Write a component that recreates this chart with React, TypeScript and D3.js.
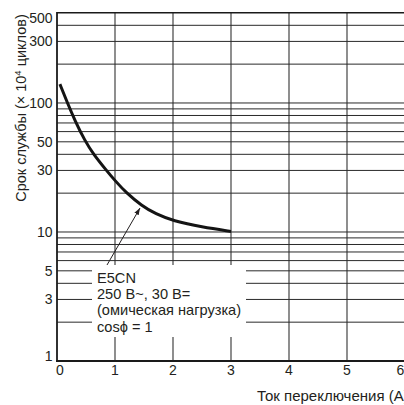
import React from "react";
import * as d3 from "d3";

const currentA = [0.05, 0.18, 0.31, 0.48, 0.63, 0.84, 1.0, 1.2, 1.46, 1.7, 2.0, 2.5, 3.0];
const lifeValues = [140, 100, 73, 51, 40, 30.5, 25, 20, 16, 13.8, 12.2, 10.9, 10.1];

const xTicks = [0, 1, 2, 3, 4, 5, 6];
const yTickLabels = [500, 300, 100, 50, 30, 10, 5, 3, 1];
const yGridFull = [6, 7, 8, 9, 10, 20, 30, 40, 50, 60, 70, 80, 90, 100, 200, 300, 400];
const yGridBroken = [2, 3, 4, 5];

const noteLines = ["E5CN", "250 В~, 30 В=", "(омическая нагрузка)", "cosϕ = 1"];
const xTitle = "Ток переключения (А)";

const FONT = "'Liberation Sans', Arial, Helvetica, sans-serif";
const INK = "#231f20";

export default function App() {
  const W = 404;
  const H = 405;
  const left = 57;
  const top = 12.8;
  const bottom = 361;
  const x = d3.scaleLinear().domain([0, 6]).range([left, 405]);
  const y = d3.scaleLog().domain([1, 500]).range([bottom, top]);

  const pts = currentA.map((a, i) => [a, lifeValues[i]] as [number, number]);
  const line = d3
    .line<[number, number]>()
    .x((d) => x(d[0]))
    .y((d) => y(d[1]))
    .curve(d3.curveBasis);

  const box = { x0: 92, x1: 246, y0: 265, y1: 337 };

  return (
    <svg
      width={W}
      height={H}
      viewBox={`0 0 ${W} ${H}`}
      style={{ position: "absolute", left: 0, top: 0, background: "#fff" }}
      fontFamily={FONT}
    >
      <defs>
        <marker id="ah" viewBox="0 0 10 10" refX="10" refY="5" markerWidth="7" markerHeight="7" orient="auto" markerUnits="userSpaceOnUse">
          <path d="M0,1.5 L10,5 L0,8.5 Z" fill={INK} />
        </marker>
      </defs>
      <rect x={0} y={0} width={W} height={H} fill="#fff" />

      {/* vertical grid */}
      {xTicks.filter((t) => t > 0).map((t) => (
        <line key={"vx" + t} x1={x(t)} x2={x(t)} y1={top} y2={bottom} stroke="#444" strokeWidth={1.2} />
      ))}
      {/* horizontal grid */}
      {yGridFull.concat(yGridBroken).map((v) => (
        <line key={"hy" + v} x1={left} x2={W} y1={y(v)} y2={y(v)} stroke="#2a2a2a" strokeWidth={1} />
      ))}

      {/* annotation background */}
      <rect x={box.x0} y={box.y0} width={box.x1 - box.x0} height={box.y1 - box.y0} fill="#fff" />

      {/* frame */}
      <line x1={left} x2={W} y1={top} y2={top} stroke="#1a1a1a" strokeWidth={1.6} />
      <line x1={left} x2={left} y1={top - 0.8} y2={bottom + 1} stroke="#1a1a1a" strokeWidth={1.8} />
      <line x1={left - 0.9} x2={W} y1={bottom} y2={bottom} stroke="#1a1a1a" strokeWidth={1.8} />

      {/* curve */}
      <path d={line(pts) || ""} fill="none" stroke="#141414" strokeWidth={3} />

      {/* arrow */}
      <line x1={107} y1={265} x2={140} y2={208} stroke={INK} strokeWidth={1} markerEnd="url(#ah)" />

      {/* note */}
      {noteLines.map((t, i) => (
        <text key={"n" + i} x={97} y={282.7 + i * 16.3} fontSize={14.6} fill={INK}>
          {t}
        </text>
      ))}

      {/* y tick labels */}
      {yTickLabels.map((v) => {
        let yy = y(v);
        if (v === 500) yy += 5;
        if (v === 1) yy -= 5;
        return (
          <text key={"yl" + v} x={52.5} y={yy} dy="0.36em" textAnchor="end" fontSize={14} fill={INK}>
            {v}
          </text>
        );
      })}

      {/* x tick labels */}
      {xTicks.map((t) => {
        let xx = x(t);
        if (t === 0) xx += 3;
        if (t === 6) xx -= 4.5;
        return (
          <text key={"xl" + t} x={xx} y={375} textAnchor="middle" fontSize={14} fill={INK}>
            {t}
          </text>
        );
      })}

      {/* axis titles */}
      <text x={257} y={401} fontSize={15} fill={INK}>
        {xTitle}
      </text>
      <text transform="translate(26,108) rotate(-90)" textAnchor="middle" fontSize={14.5} fill={INK}>
        Срок службы (× 10
        <tspan dy={-5.5} fontSize={9.5}>4</tspan>
        <tspan dy={5.5}> циклов)</tspan>
      </text>
    </svg>
  );
}
